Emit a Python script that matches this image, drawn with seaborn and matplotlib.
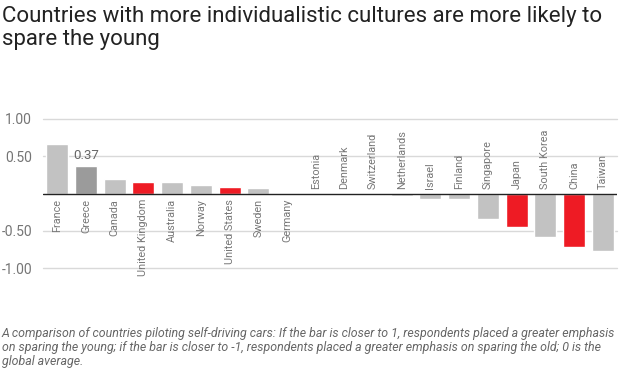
import numpy as np
import seaborn as sns
import matplotlib.pyplot as plt

# Data
countries = ["France", "Greece", "Canada", "United Kingdom", "Australia", "Norway",
             "United States", "Sweden", "Germany", "Estonia", "Denmark", "Switzerland",
             "Netherlands", "Israel", "Finland", "Singapore", "Japan", "South Korea",
             "China", "Taiwan"]
values = [0.66, 0.37, 0.19, 0.16, 0.15, 0.12, 0.09, 0.08, 0.01, 0.0, 0.0, -0.02,
          -0.04, -0.07, -0.08, -0.34, -0.45, -0.58, -0.72, -0.77]
highlight = ["United Kingdom", "United States", "Japan", "China"]
yticks = [-1.0, -0.5, 0.5, 1.0]

GRAY = "#c2c2c2"
DARK = "#9b9b9b"
RED = "#ee1b24"
colors = [RED if c in highlight else (DARK if c == "Greece" else GRAY) for c in countries]

sns.set_style("white")
plt.rcParams["font.family"] = ["Roboto", "DejaVu Sans"]

fig = plt.figure(figsize=(6.22, 3.72), dpi=100)
ax = fig.add_axes([43 / 622, 1 - 268 / 372, 574 / 622, 149 / 372])

sns.barplot(x=countries, y=values, hue=countries, palette=colors, legend=False,
            width=0.77, saturation=1, ax=ax)

ax.set_ylim(-1.0, 1.0)
ax.set_xlim(-0.5, len(countries) - 0.5)
ax.set_yticks(yticks)
ax.set_yticklabels([f"{t:.2f}" for t in yticks], color="#757575", fontsize=10)
ax.set_xticks([])
ax.set_xlabel("")
ax.set_ylabel("")
ax.tick_params(axis="y", length=0, pad=8)
for s in ax.spines.values():
    s.set_visible(False)
for t in yticks:
    ax.axhline(t, color="#d9d9d9", lw=1.0, zorder=0, clip_on=False)
ax.axhline(0, color="#222222", lw=1.0, zorder=3)

# rotated category labels: below the axis for positive bars, above otherwise
for i, (c, v) in enumerate(zip(countries, values)):
    if v > 0:
        ax.annotate(c, (i, 0), xytext=(0, -4), textcoords="offset points",
                    rotation=90, ha="center", va="top", fontsize=7.8, color="#777777")
    else:
        ax.annotate(c, (i, 0), xytext=(0, 3), textcoords="offset points",
                    rotation=90, ha="center", va="bottom", fontsize=7.8, color="#777777")

gi = countries.index("Greece")
ax.annotate(f"{values[gi]:.2f}", (gi, values[gi]), xytext=(-9, 3), textcoords="offset points",
            ha="left", va="bottom", fontsize=9.5, color="#666666")

fig.text(0.003, 0.985, "Countries with more individualistic cultures are more likely to\nspare the young",
         ha="left", va="top", fontsize=16, color="#222222", linespacing=1.15)
fig.text(0.003, 0.012,
         "A comparison of countries piloting self-driving cars: If the bar is closer to 1, respondents placed a greater emphasis\n"
         "on sparing the young; if the bar is closer to -1, respondents placed a greater emphasis on sparing the old; 0 is the\n"
         "global average.",
         ha="left", va="bottom", fontsize=8.9, style="italic", color="#666666", linespacing=1.08)

fig.savefig("out.png", dpi=100)
